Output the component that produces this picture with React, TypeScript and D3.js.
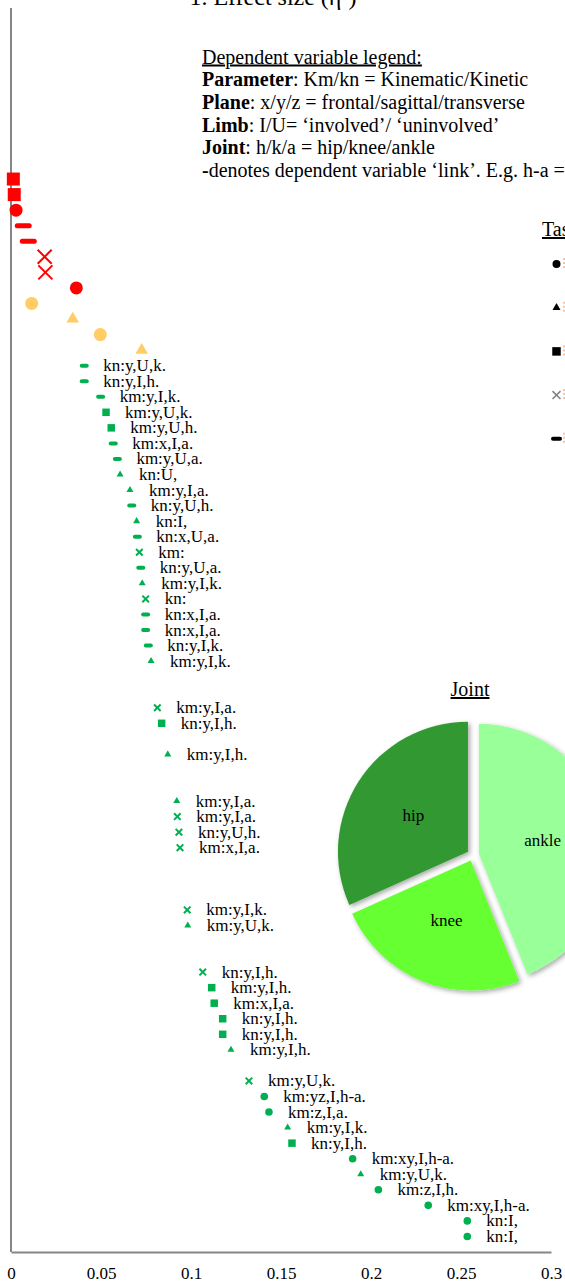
import React, { useRef, useEffect } from "react";
import * as d3 from "d3";

// one entry per row, top to bottom (null = empty row)
const shapes = [
  "sq", "sq", "ci", "da", "da", "x", "x", "ci", "ci", "tr", "ci", "tr",
  "da", "da", "da", "sq", "sq", "da", "da", "tr", "tr", "da", "tr", "da",
  "x", "da", "tr", "x", "da", "da", "da", "tr", null, null, "x", "sq",
  null, "tr", null, null, "tr", "x", "x", "x", null, null, null, "x",
  "tr", null, null, "x", "sq", "sq", "sq", "sq", "tr", null, "x", "ci",
  "ci", "tr", "sq", "ci", "tr", "ci", "ci", "ci", "ci",
];
const effectSizes = [
  0.0013, 0.0018, 0.0028, 0.0068, 0.0096, 0.0187, 0.0191, 0.0363, 0.0115, 0.0343, 0.0496, 0.0726,
  0.0407, 0.0407, 0.0498, 0.0528, 0.0557, 0.0568, 0.0591, 0.0606, 0.0661, 0.0671, 0.0698, 0.0702,
  0.0713, 0.0721, 0.0729, 0.0748, 0.0748, 0.0748, 0.0763, 0.0778, null, null, 0.0813, 0.0837,
  null, 0.0871, null, null, 0.0921, 0.0924, 0.0933, 0.0939, null, null, null, 0.0979,
  0.0982, null, null, 0.1065, 0.1115, 0.1129, 0.1176, 0.1176, 0.1222, null, 0.1322, 0.1407,
  0.1433, 0.1537, 0.1561, 0.1898, 0.1943, 0.2041, 0.2318, 0.2535, 0.2535,
];
const pointLabels = [
  "", "", "", "", "", "", "", "", "", "", "", "",
  "kn:y,U,k.", "kn:y,I,h.", "km:y,I,k.", "km:y,U,k.", "km:y,U,h.", "km:x,I,a.", "km:y,U,a.", "kn:U,", "km:y,I,a.", "kn:y,U,h.", "kn:I,", "kn:x,U,a.",
  "km:", "kn:y,U,a.", "km:y,I,k.", "kn:", "kn:x,I,a.", "kn:x,I,a.", "kn:y,I,k.", "km:y,I,k.", "", "", "km:y,I,a.", "kn:y,I,h.",
  "", "km:y,I,h.", "", "", "km:y,I,a.", "km:y,I,a.", "kn:y,U,h.", "km:x,I,a.", "", "", "", "km:y,I,k.",
  "km:y,U,k.", "", "", "kn:y,I,h.", "km:y,I,h.", "km:x,I,a.", "kn:y,I,h.", "kn:y,I,h.", "km:y,I,h.", "", "km:y,U,k.", "km:yz,I,h-a.",
  "km:z,I,a.", "km:y,I,k.", "kn:y,I,h.", "km:xy,I,h-a.", "km:y,U,k.", "km:z,I,h.", "km:xy,I,h-a.", "kn:I,", "kn:I,",
];
const redRows = 8;
const orangeRows = 4;

const xTicks = [0, 0.05, 0.1, 0.15, 0.2, 0.25, 0.3];

const jointNames = ["ankle", "knee", "hip"];
const jointCounts = [18, 10, 13];
const jointColors = ["#99FF99", "#66FF33", "#339933"];

const taskShapes = ["ci", "tr", "sq", "x", "da"];

const legendLines = [
  ["", "Dependent variable legend:"],
  ["Parameter", ": Km/kn = Kinematic/Kinetic"],
  ["Plane", ": x/y/z = frontal/sagittal/transverse"],
  ["Limb", ": I/U= \u2018involved\u2019/ \u2018uninvolved\u2019"],
  ["Joint", ": h/k/a = hip/knee/ankle"],
  ["-", "denotes dependent variable \u2018link\u2019. E.g. h-a ="],
];

const FONT = "'Liberation Serif', 'Times New Roman', serif";

const W = 565;
const H = 1285;

function drawMarker(g, shape, color, sz) {
  if (shape === "sq") {
    g.append("path").attr("d", d3.symbol(d3.symbolSquare, sz.sq * sz.sq)()).attr("fill", color);
  } else if (shape === "ci") {
    g.append("path").attr("d", d3.symbol(d3.symbolCircle, Math.PI * sz.ci * sz.ci)()).attr("fill", color);
  } else if (shape === "tr") {
    g.append("path")
      .attr("d", d3.symbol(d3.symbolTriangle, (Math.sqrt(3) / 4) * sz.tr * sz.tr)())
      .attr("fill", color);
  } else if (shape === "x") {
    g.append("path")
      .attr("d", d3.symbol(d3.symbolTimes, sz.x)())
      .attr("fill", "none")
      .attr("stroke", sz.xColor || color)
      .attr("stroke-width", sz.xw);
  } else if (shape === "da") {
    g.append("rect")
      .attr("x", -sz.da[0] / 2)
      .attr("y", -sz.da[1] / 2)
      .attr("width", sz.da[0])
      .attr("height", sz.da[1])
      .attr("rx", sz.da[1] / 2)
      .attr("fill", color);
  }
}

const bigSize = { sq: 13, ci: 6.5, tr: 12.5, x: 130, xw: 2, da: [17, 5] };
const smallSize = { sq: 7.5, ci: 3.8, tr: 7, x: 30, xw: 2, da: [9, 4] };
const taskSize = { sq: 8.5, ci: 4, tr: 8, x: 43, xw: 1.5, da: [11, 4], xColor: "#7F7F7F" };

const App = () => {
  const ref = useRef(null);

  useEffect(() => {
    const svg = d3.select(ref.current);
    svg.selectAll("*").remove();

    const x = d3.scaleLinear().domain([0, 0.3]).range([11, 551]);
    const y = d3.scaleLinear().domain([-11, 69]).range([8, 1252]);

    const defs = svg.append("defs");
    const f = defs.append("filter").attr("id", "pieShadow").attr("x", "-20%").attr("y", "-20%").attr("width", "140%").attr("height", "140%");
    f.append("feDropShadow")
      .attr("dx", 2)
      .attr("dy", 2)
      .attr("stdDeviation", 2.5)
      .attr("flood-color", "#000")
      .attr("flood-opacity", 0.35);

    // title (mostly cut off at the top)
    svg.append("text")
      .attr("x", 273)
      .attr("y", 5)
      .attr("text-anchor", "middle")
      .attr("font-family", FONT)
      .attr("font-size", 24)
      .text("1. Effect size (\u03B7\u00B2)");

    // axes
    svg.append("line")
      .attr("x1", 11).attr("x2", 11)
      .attr("y1", 8).attr("y2", 1252)
      .attr("stroke", "#868686").attr("stroke-width", 2);

    const xAxis = svg.append("g")
      .attr("transform", "translate(0,1252)")
      .call(d3.axisBottom(x).tickValues(xTicks).tickSize(0).tickSizeOuter(0).tickPadding(15).tickFormat((d) => String(d)));
    xAxis.select(".domain").attr("stroke", "#868686").attr("stroke-width", 2);
    xAxis.selectAll("text").attr("font-family", FONT).attr("font-size", 17).attr("fill", "#000");

    // legend text
    const lg = svg.append("text").attr("font-family", FONT).attr("font-size", 20).attr("fill", "#000");
    legendLines.forEach((ln, i) => {
      const t = lg.append("tspan").attr("x", 202).attr("y", 63.5 + i * 22.7);
      if (ln[0]) t.append("tspan").attr("font-weight", "bold").text(ln[0]);
      const rest = t.append("tspan").text(ln[1]);
      if (i === 0) rest.style("text-decoration", "underline");
    });

    // task legend (cut off on the right)
    svg.append("text")
      .attr("x", 542)
      .attr("y", 236)
      .attr("font-family", FONT)
      .attr("font-size", 20)
      .style("text-decoration", "underline")
      .text("Task");
    taskShapes.forEach((s, i) => {
      const cy = 264 + i * 43.7;
      const g = svg.append("g").attr("transform", `translate(556.5,${cy})`);
      drawMarker(g, s, "#000", taskSize);
      svg.append("line")
        .attr("x1", 564).attr("x2", 564)
        .attr("y1", cy - 6).attr("y2", cy + 6)
        .attr("stroke", "#F4B183").attr("stroke-width", 1.5)
        .attr("stroke-dasharray", "2,2");
    });

    // points
    shapes.forEach((s, i) => {
      const v = effectSizes[i];
      if (!s || v == null) return;
      const color = i < redRows ? "#FF0000" : i < redRows + orangeRows ? "#FFCC66" : "#00B050";
      const sz = i < redRows + orangeRows ? bigSize : smallSize;
      const g = svg.append("g").attr("transform", `translate(${x(v)},${y(i)})`);
      drawMarker(g, s, color, sz);
      if (pointLabels[i]) {
        svg.append("text")
          .attr("x", x(v) + 19)
          .attr("y", y(i) + 5.5)
          .attr("font-family", FONT)
          .attr("font-size", 17)
          .attr("fill", "#000")
          .text(pointLabels[i]);
      }
    });

    // joint pie
    const cx = 473;
    const cy = 855;
    const r = 130;
    svg.append("text")
      .attr("x", 470)
      .attr("y", 696)
      .attr("text-anchor", "middle")
      .attr("font-family", FONT)
      .attr("font-size", 20)
      .style("text-decoration", "underline")
      .text("Joint");

    const pie = d3.pie().sort(null).value((d) => d)(jointCounts);
    const arc = d3.arc().innerRadius(0).outerRadius(r);
    const pg = svg.append("g").attr("transform", `translate(${cx},${cy})`);
    pie.forEach((p, i) => {
      const mid = (p.startAngle + p.endAngle) / 2;
      const off = 6;
      const g = pg.append("g").attr("transform", `translate(${Math.sin(mid) * off},${-Math.cos(mid) * off})`);
      g.append("path").attr("d", arc(p)).attr("fill", jointColors[i]).attr("filter", "url(#pieShadow)");
      const c = arc.centroid(p);
      g.append("text")
        .attr("x", c[0])
        .attr("y", c[1] + 5)
        .attr("text-anchor", "middle")
        .attr("font-family", FONT)
        .attr("font-size", 17)
        .text(jointNames[i]);
    });
  });

  return (
    <svg
      ref={ref}
      width={W}
      height={H}
      style={{ position: "absolute", left: 0, top: 0, background: "#fff" }}
    ></svg>
  );
};

export default App;
